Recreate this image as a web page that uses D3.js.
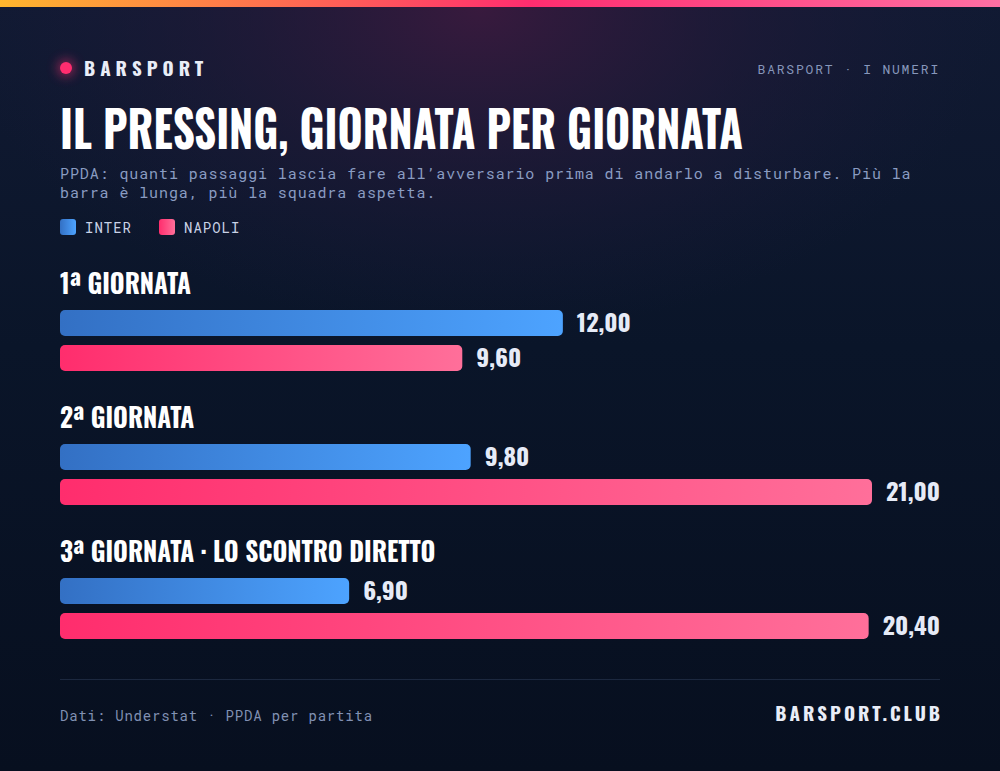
<!DOCTYPE html>
<html><head><meta charset="utf-8">
<script src="https://cdn.jsdelivr.net/npm/d3@7"></script>
<style>html,body{margin:0;padding:0;background:#0a1428;} svg{display:block}</style>
</head><body><svg id="c" width="1000" height="771"></svg>
<script>
// ---- data ----
const categories = ["1ª GIORNATA", "2ª GIORNATA", "3ª GIORNATA · LO SCONTRO DIRETTO"];
const seriesNames = ["INTER", "NAPOLI"];
const interValues = [12.0, 9.8, 6.9];
const napoliValues = [9.6, 21.0, 20.4];
const titleText = "IL PRESSING, GIORNATA PER GIORNATA";
const subtitleLines = ["PPDA: quanti passaggi lascia fare all’avversario prima di andarlo a disturbare. Più la", "barra è lunga, più la squadra aspetta."];
const brandText = "BARSPORT";
const kickerText = "BARSPORT · I NUMERI";
const sourceText = "Dati: Understat · PPDA per partita";
const siteText = "BARSPORT.CLUB";

const COND = "'Oswald','Liberation Sans Narrow','DejaVu Sans Condensed','Roboto Condensed','Liberation Sans',sans-serif";
const MONO = "'Roboto Mono','DejaVu Sans Mono','Liberation Mono',monospace";
const W = 1000, H = 771, L = 60, R = 940;

const svg = d3.select("#c");
const defs = svg.append("defs");

// background
const bg = defs.append("linearGradient").attr("id","bg").attr("x1",0).attr("y1",0).attr("x2",0).attr("y2",1);
bg.append("stop").attr("offset","0%").attr("stop-color","#111a33");
bg.append("stop").attr("offset","45%").attr("stop-color","#0a1529");
bg.append("stop").attr("offset","100%").attr("stop-color","#070f1f");
const glow = defs.append("radialGradient").attr("id","glow").attr("gradientUnits","userSpaceOnUse")
  .attr("cx",480).attr("cy",10).attr("r",520).attr("gradientTransform","translate(480,10) scale(1,0.62) translate(-480,-10)");
glow.append("stop").attr("offset","0%").attr("stop-color","#3a1a3e").attr("stop-opacity",0.95);
glow.append("stop").attr("offset","55%").attr("stop-color","#251a3a").attr("stop-opacity",0.45);
glow.append("stop").attr("offset","100%").attr("stop-color","#1a1a3a").attr("stop-opacity",0);
const topBar = defs.append("linearGradient").attr("id","topbar");
topBar.append("stop").attr("offset","0%").attr("stop-color","#ffb62e");
topBar.append("stop").attr("offset","53%").attr("stop-color","#ff2d6f");
topBar.append("stop").attr("offset","100%").attr("stop-color","#ff6fa3");
const gInter = defs.append("linearGradient").attr("id","gInter");
gInter.append("stop").attr("offset","0%").attr("stop-color","#3370c4");
gInter.append("stop").attr("offset","100%").attr("stop-color","#4da3ff");
const gNapoli = defs.append("linearGradient").attr("id","gNapoli");
gNapoli.append("stop").attr("offset","0%").attr("stop-color","#ff2d6d");
gNapoli.append("stop").attr("offset","100%").attr("stop-color","#ff6f9a");
defs.append("filter").attr("id","blur").attr("x","-200%").attr("y","-200%").attr("width","500%").attr("height","500%")
  .append("feGaussianBlur").attr("stdDeviation",6);

svg.append("rect").attr("width",W).attr("height",H).attr("fill","url(#bg)");
svg.append("rect").attr("width",W).attr("height",H).attr("fill","url(#glow)");
svg.append("rect").attr("width",W).attr("height",7).attr("fill","url(#topbar)");

// condensed-look helper: scale a text run horizontally by factor f
function squeeze(sel, f){
  sel.each(function(){
    const n = this.getComputedTextLength();
    d3.select(this).attr("textLength", n*f).attr("lengthAdjust","spacingAndGlyphs");
  });
  return sel;
}
function natWidth(str, size){
  const t = svg.append("text").style("font-family",COND).style("font-weight",700).style("font-size",size+"px").text(str);
  const w = t.node().getComputedTextLength(); t.remove(); return w;
}

// title
const title = svg.append("text").attr("x",L).attr("y",149).attr("fill","#ffffff")
  .style("font-family",COND).style("font-weight",700).style("font-size","51px").text(titleText);
title.attr("textLength",683).attr("lengthAdjust","spacingAndGlyphs");

// header
svg.append("circle").attr("cx",66).attr("cy",68).attr("r",8).attr("fill","#ff2d6f").attr("opacity",0.6).attr("filter","url(#blur)");
svg.append("circle").attr("cx",66).attr("cy",68).attr("r",6).attr("fill","#ff2d6f");
svg.append("text").attr("x",84).attr("y",76).attr("fill","#e9edf7")
  .style("font-family",COND).style("font-weight",700).style("font-size","19px").style("letter-spacing","5px").text(brandText);
svg.append("text").attr("x",R).attr("y",74).attr("text-anchor","end").attr("fill","#8797bb")
  .style("font-family",MONO).style("font-size","13px").style("letter-spacing","1.8px").text(kickerText);

// subtitle
svg.selectAll("text.sub").data(subtitleLines).join("text").attr("class","sub")
  .attr("x",L).attr("y",(d,i)=>179+i*19).attr("fill","#8a9cc2")
  .style("font-family",MONO).style("font-size","15px").style("letter-spacing","0.9px").text(d=>d);

// legend
const colorScale = d3.scaleOrdinal().domain(seriesNames).range(["url(#gInter)","url(#gNapoli)"]);
const legendX = d3.scaleOrdinal().domain(seriesNames).range([L, 159]);
const lg = svg.selectAll("g.leg").data(seriesNames).join("g").attr("class","leg")
  .attr("transform",d=>`translate(${legendX(d)},219)`);
lg.append("rect").attr("width",16).attr("height",16).attr("rx",3).attr("fill",d=>colorScale(d));
lg.append("text").attr("x",25).attr("y",14).attr("fill","#c9d2e6")
  .style("font-family",MONO).style("font-size","14px").style("letter-spacing","1px").text(d=>d);

// groups
const groupY = d3.scaleBand().domain(categories).range([262, 262+134*categories.length]);
const barY = d3.scaleBand().domain(seriesNames).range([48, 48+61]).paddingInner(9/35).paddingOuter(0);
const maxV = d3.max(interValues.concat(napoliValues));
const x = d3.scaleLinear().domain([0, maxV]).range([0, R-L]);
const fmt = d3.formatLocale({decimal:",", thousands:".", grouping:[3], currency:["€",""]}).format(".2f");

const HEAD_SIZE = 27, LAB_SIZE = 24;
const kHead = 131 / natWidth("1ª GIORNATA", HEAD_SIZE);
const kLab = 54 / natWidth("12,00", LAB_SIZE);

const rows = categories.map((c,i)=>({cat:c, vals:[{s:"INTER",v:interValues[i]},{s:"NAPOLI",v:napoliValues[i]}]}));
const gg = svg.selectAll("g.grp").data(rows).join("g").attr("class","grp")
  .attr("transform",d=>`translate(${L},${groupY(d.cat)})`);
squeeze(gg.append("text").attr("x",0).attr("y",32).attr("fill","#ffffff")
  .style("font-family",COND).style("font-weight",700).style("font-size",HEAD_SIZE+"px").text(d=>d.cat), kHead);

gg.each(function(row){
  const g = d3.select(this);
  row.vals.forEach(d=>{
    const y0 = barY(d.s), bh = barY.bandwidth();
    const lab = g.append("text").attr("y", y0+bh/2+9).attr("fill","#e6ebf7")
      .style("font-family",COND).style("font-weight",700).style("font-size",LAB_SIZE+"px").text(fmt(d.v));
    squeeze(lab, kLab);
    const lw = +lab.attr("textLength");
    const bw = Math.min(x(d.v), (R-L) - lw - 14);
    g.append("rect").attr("x",0).attr("y",y0).attr("width",bw).attr("height",bh).attr("rx",5)
      .attr("fill",colorScale(d.s));
    lab.attr("x", bw+14);
  });
});

// footer
svg.append("line").attr("x1",L).attr("x2",R).attr("y1",679.5).attr("y2",679.5).attr("stroke","#1c283f").attr("stroke-width",1);
svg.append("text").attr("x",L).attr("y",721).attr("fill","#8191b3")
  .style("font-family",MONO).style("font-size","14px").style("letter-spacing","0.8px").text(sourceText);
svg.append("text").attr("x",R+3).attr("y",721).attr("text-anchor","end").attr("fill","#e9edf7")
  .style("font-family",COND).style("font-weight",700).style("font-size","19px").style("letter-spacing","3px").text(siteText);
</script></body></html>
